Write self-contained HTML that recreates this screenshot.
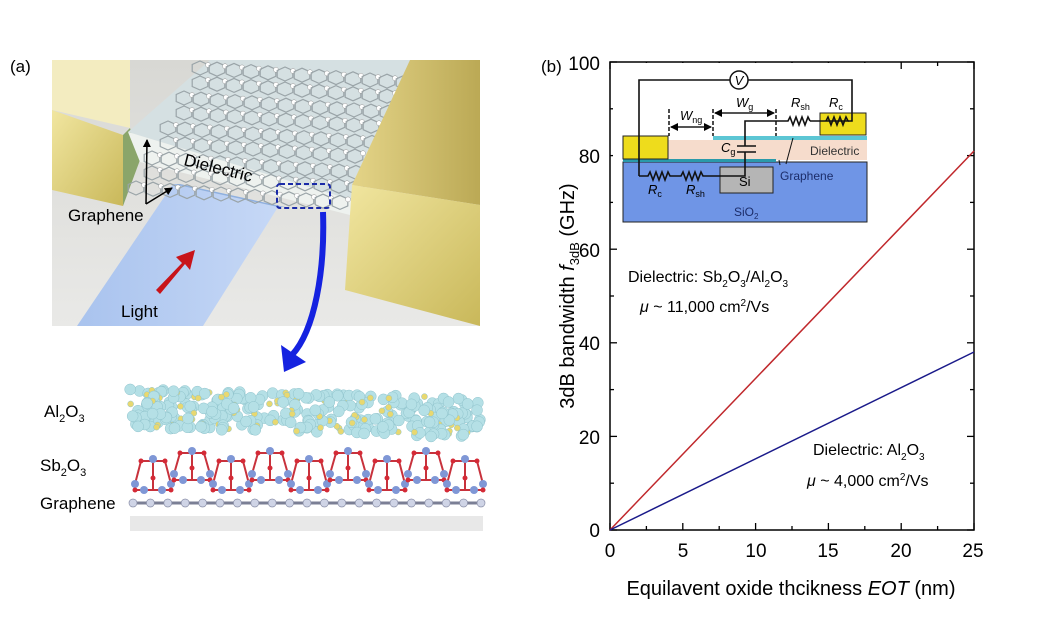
<!DOCTYPE html>
<html><head><meta charset="utf-8"><style>
html,body{margin:0;padding:0;background:#fff;}
svg{display:block;font-family:"Liberation Sans",Arial,sans-serif;}
</style></head><body>
<svg id="s" width="1058" height="625" viewBox="0 0 1058 625" xmlns="http://www.w3.org/2000/svg">
<defs>
<linearGradient id="bg" x1="0" y1="0" x2="0" y2="1"><stop offset="0" stop-color="#d8d8d4"/><stop offset="1" stop-color="#e9e9e7"/></linearGradient>
<linearGradient id="gold" x1="0" y1="0" x2="1" y2="1"><stop offset="0" stop-color="#f1e6a0"/><stop offset="1" stop-color="#c9b85a"/></linearGradient>
<linearGradient id="goldtop" x1="0" y1="0" x2="1" y2="0"><stop offset="0" stop-color="#e4d488"/><stop offset="1" stop-color="#bba955"/></linearGradient>
<linearGradient id="wg" x1="0" y1="0" x2="1" y2="0"><stop offset="0" stop-color="#a9c3ee"/><stop offset="1" stop-color="#c6d8f6"/></linearGradient>
<marker id="ah" markerWidth="8" markerHeight="8" refX="7" refY="4" orient="auto" markerUnits="userSpaceOnUse"><path d="M0,0 L8,4 L0,8 z" fill="#000"/></marker>
</defs>

<text x="10" y="72" font-size="17">(a)</text>
<text x="541" y="72" font-size="17">(b)</text>

<rect x="52" y="60" width="428" height="266" fill="url(#bg)"/>
<polygon points="52,60 130,60 130,128 52,110" fill="#f3ecc0"/>
<polygon points="52,110 123,135 123,206 52,190" fill="url(#gold)"/>
<polygon points="123,135 130,128 140,160 123,206" fill="#8aa56a"/>
<polygon points="77,326 173,184 278,207 203,326" fill="url(#wg)"/>
<polygon points="173,184 180,184 285,207 278,207" fill="#8fb0e0"/>
<polygon points="128,132 210,60 410,60 352,200" fill="#d5e0e2"/>
<polygon points="128,132 352,200 350,215 140,162" fill="#eef2ef"/>
<g id="hex" fill="none" stroke="#9aa4a8" stroke-width="1.2"></g>
<polygon points="352,185 410,60 480,60 480,205" fill="url(#goldtop)"/>
<polygon points="352,185 480,205 480,326 345,290" fill="url(#gold)"/>
<rect x="277" y="184" width="53" height="24" rx="3" fill="none" stroke="#1a2aa8" stroke-width="2" stroke-dasharray="5,3"/>
<text x="183" y="165" font-size="17" transform="rotate(14 183 165)">Dielectric</text>
<text x="68" y="221" font-size="17">Graphene</text>
<line x1="146" y1="204" x2="147" y2="140" stroke="#000" stroke-width="1.5" marker-end="url(#ah)"/>
<line x1="146" y1="204" x2="172" y2="188" stroke="#000" stroke-width="1.5" marker-end="url(#ah)"/>
<polygon points="156,290 182,263 176,257 195,250 190,270 185,264 160,294" fill="#c8141a"/>
<text x="121" y="317" font-size="17">Light</text>
<path d="M323,212 C325,270 315,330 292,355" fill="none" stroke="#1522e0" stroke-width="6"/>
<polygon points="281,345 306,362 284,372" fill="#1522e0"/>

<g id="al"></g>
<g id="sb"></g>
<line x1="130" y1="503" x2="483" y2="503" stroke="#7b7f95" stroke-width="3"/>
<g id="gr"></g>
<rect x="130" y="516" width="353" height="15" fill="#e8e8e8"/>
<text x="44" y="417" font-size="17">Al<tspan font-size="11" dy="5">2</tspan><tspan dy="-5">O</tspan><tspan font-size="11" dy="5">3</tspan></text>
<text x="40" y="471" font-size="17">Sb<tspan font-size="11" dy="5">2</tspan><tspan dy="-5">O</tspan><tspan font-size="11" dy="5">3</tspan></text>
<text x="40" y="509" font-size="17">Graphene</text>

<rect x="610" y="62" width="364" height="468" stroke="#000" stroke-width="1.5" fill="none"/>
<g id="ticks" stroke="#000" stroke-width="1.3"></g>
<g font-size="19" text-anchor="end">
<text x="600" y="537">0</text><text x="600" y="444">20</text><text x="600" y="350">40</text><text x="600" y="257">60</text><text x="600" y="163">80</text><text x="600" y="70">100</text>
</g>
<g font-size="19" text-anchor="middle">
<text x="610" y="557">0</text><text x="683" y="557">5</text><text x="756" y="557">10</text><text x="828" y="557">15</text><text x="901" y="557">20</text><text x="973" y="557">25</text>
</g>
<text x="791" y="595" font-size="20" text-anchor="middle">Equilavent oxide thcikness <tspan font-style="italic">EOT</tspan> (nm)</text>
<text transform="translate(574 296) rotate(-90)" font-size="20" text-anchor="middle">3dB bandwidth <tspan font-style="italic">f</tspan><tspan font-size="13" dy="5">3dB</tspan><tspan dy="-5"> (GHz)</tspan></text>
<line x1="610" y1="530" x2="974" y2="151" stroke="#c0282c" stroke-width="1.5"/>
<line x1="610" y1="530" x2="974" y2="352" stroke="#1a1a8a" stroke-width="1.5"/>
<text x="628" y="282" font-size="16">Dielectric: Sb<tspan font-size="10" dy="5">2</tspan><tspan dy="-5">O</tspan><tspan font-size="10" dy="5">3</tspan><tspan dy="-5">/Al</tspan><tspan font-size="10" dy="5">2</tspan><tspan dy="-5">O</tspan><tspan font-size="10" dy="5">3</tspan></text>
<text x="640" y="312" font-size="16"><tspan font-style="italic">μ</tspan> ~ 11,000 cm<tspan font-size="10" dy="-6">2</tspan><tspan dy="6">/Vs</tspan></text>
<text x="813" y="455" font-size="16">Dielectric: Al<tspan font-size="10" dy="5">2</tspan><tspan dy="-5">O</tspan><tspan font-size="10" dy="5">3</tspan></text>
<text x="807" y="486" font-size="16"><tspan font-style="italic">μ</tspan> ~ 4,000 cm<tspan font-size="10" dy="-6">2</tspan><tspan dy="6">/Vs</tspan></text>

<rect x="613" y="63" width="262" height="166" fill="#fff"/>
<rect x="623" y="162" width="244" height="60" fill="#6f95e6" stroke="#222" stroke-width="1"/>
<rect x="623" y="140" width="244" height="20" fill="#f6dccc"/>
<rect x="713" y="136" width="154" height="4" fill="#5cc6d4"/>
<rect x="623" y="159" width="153" height="3" fill="#2a9aaa"/>
<rect x="623" y="136" width="45" height="23" fill="#eedc1c" stroke="#222"/>
<rect x="820" y="113" width="46" height="22" fill="#eedc1c" stroke="#222"/>
<rect x="720" y="167" width="53" height="26" fill="#b5b5b5" stroke="#222"/>
<g fill="none" stroke="#111" stroke-width="1.6">
<path d="M639,176 L639,80 L731,80 M747,80 L852,80 L852,121 L848,121"/>
<path d="M826,121 l2,-4 3,8 3,-8 3,8 3,-8 3,8 3,-8 2,4 L810,121 M810,121 l-2,-4 -3,8 -3,-8 -3,8 -3,-8 -3,8 -3,-8 -2,4 L745,121 L745,146"/>
<path d="M737,146 L756,146 M737,152 L756,152"/>
<path d="M745,152 L745,176 L703,176 l-2,-4 -3,8 -3,-8 -3,8 -3,-8 -3,8 -3,-8 -2,4 L670,176 l-2,-4 -3,8 -3,-8 -3,8 -3,-8 -3,8 -3,-8 -2,4 L639,176"/>
</g>
<circle cx="739" cy="80" r="9" fill="#fff" stroke="#111" stroke-width="1.5"/>
<text x="739" y="85" font-size="13" font-style="italic" text-anchor="middle">V</text>
<g stroke="#111" stroke-width="1.5" stroke-dasharray="4,2"><line x1="669" y1="109" x2="669" y2="136"/><line x1="713" y1="109" x2="713" y2="136"/><line x1="776" y1="109" x2="776" y2="136"/></g>
<line x1="671" y1="127" x2="711" y2="127" stroke="#111" stroke-width="1.3" marker-end="url(#ah)"/><line x1="711" y1="127" x2="671" y2="127" stroke="#111" stroke-width="1.3" marker-end="url(#ah)"/>
<line x1="715" y1="113" x2="774" y2="113" stroke="#111" stroke-width="1.3" marker-end="url(#ah)"/><line x1="774" y1="113" x2="715" y2="113" stroke="#111" stroke-width="1.3" marker-end="url(#ah)"/>
<path d="M793,138 L786,164 M779,160 L780,165" stroke="#111" stroke-width="1" fill="none"/>
<g font-size="13">
<text x="680" y="120" font-style="italic">W<tspan font-size="9" dy="3" font-style="normal">ng</tspan></text>
<text x="736" y="107" font-style="italic">W<tspan font-size="9" dy="3" font-style="normal">g</tspan></text>
<text x="791" y="107" font-style="italic">R<tspan font-size="9" dy="3" font-style="normal">sh</tspan></text>
<text x="829" y="107" font-style="italic">R<tspan font-size="9" dy="3" font-style="normal">c</tspan></text>
<text x="721" y="152" font-style="italic">C<tspan font-size="9" dy="3" font-style="normal">g</tspan></text>
<text x="648" y="194" font-style="italic">R<tspan font-size="9" dy="3" font-style="normal">c</tspan></text>
<text x="686" y="194" font-style="italic">R<tspan font-size="9" dy="3" font-style="normal">sh</tspan></text>
<text x="739" y="186">Si</text>
<text x="810" y="155" font-size="12" fill="#333">Dielectric</text>
<text x="780" y="180" font-size="12" fill="#1c2d6a">Graphene</text>
<text x="734" y="216" font-size="12" fill="#1c2d6a">SiO<tspan font-size="8" dy="3">2</tspan></text>
</g>
</svg>
<script>
(function(){
var NS="http://www.w3.org/2000/svg";
function el(p,t,a){var e=document.createElementNS(NS,t);for(var k in a)e.setAttribute(k,a[k]);p.appendChild(e);return e;}
var tg=document.getElementById('ticks');
for(var i=0;i<=10;i++){var x=610+i*36.4,l=i%2?4:7;el(tg,'line',{x1:x,y1:530,x2:x,y2:530-l});el(tg,'line',{x1:x,y1:62,x2:x,y2:62+l});}
for(var i=0;i<=10;i++){var y=530-i*46.8,l=i%2?4:7;el(tg,'line',{x1:610,y1:y,x2:610+l,y2:y});el(tg,'line',{x1:974,y1:y,x2:974-l,y2:y});}
var hg=document.getElementById('hex');
for(var r=0;r<9;r++)for(var c=0;c<14;c++){var cx=200+c*17-r*8+(r%2)*8, cy=68+r*15+c*1.2; if(cx<135||cx>405-r*7)continue;
var d="";for(var k=0;k<6;k++){var a=Math.PI/3*k+Math.PI/6;d+=(k?"L":"M")+(cx+9*Math.cos(a)).toFixed(1)+","+(cy+7*Math.sin(a)).toFixed(1);}
el(hg,'path',{d:d+"Z"});el(hg,'circle',{cx:cx+8,cy:cy-3,r:2.5,fill:'#fff',stroke:'#999','stroke-width':0.5});}
var al=document.getElementById('al');var seed=3;function rnd(){seed=(seed*9301+49297)%233280;return seed/233280;}
for(var i=0;i<330;i++){var x=130+rnd()*350,t=(x-130)/350,y=388+t*10+rnd()*40;var yl=rnd()<0.2;el(al,'circle',{cx:x,cy:y,r:yl?3:5.5,fill:yl?'#e8d870':'#b5e0e6',stroke:'#8fc3cc','stroke-width':0.5});}
var sb=document.getElementById('sb');
for(var j=0;j<9;j++){
  var x0=135+j*39, up=(j%2==1), tp=up?449:457, bt=up?480:490;
  el(sb,'path',{d:'M'+x0+','+(bt-6)+' L'+(x0+6)+','+(tp+4)+' L'+(x0+30)+','+(tp+4)+' L'+(x0+36)+','+(bt-6)+' M'+x0+','+bt+' L'+(x0+36)+','+bt+' M'+(x0+18)+','+(tp+2)+' L'+(x0+18)+','+bt,fill:'none',stroke:'#c8323c','stroke-width':'2'});
  var bl=[[0,bt-6],[36,bt-6],[18,tp+2],[9,bt],[27,bt]];
  for(var q=0;q<bl.length;q++)el(sb,'circle',{cx:x0+bl[q][0],cy:bl[q][1],r:4,fill:'#7f97d6'});
  var rd=[[6,tp+4],[30,tp+4],[18,bt-12],[0,bt],[36,bt]];
  for(var q=0;q<rd.length;q++)el(sb,'circle',{cx:x0+rd[q][0],cy:rd[q][1],r:2.5,fill:'#d42a36'});
}
var gr=document.getElementById('gr');for(var x=133;x<=481;x+=17.4)el(gr,'circle',{cx:x,cy:503,r:4,fill:'#cfd4e6',stroke:'#8a8fa8','stroke-width':0.7});
})();
</script>
</body></html>
